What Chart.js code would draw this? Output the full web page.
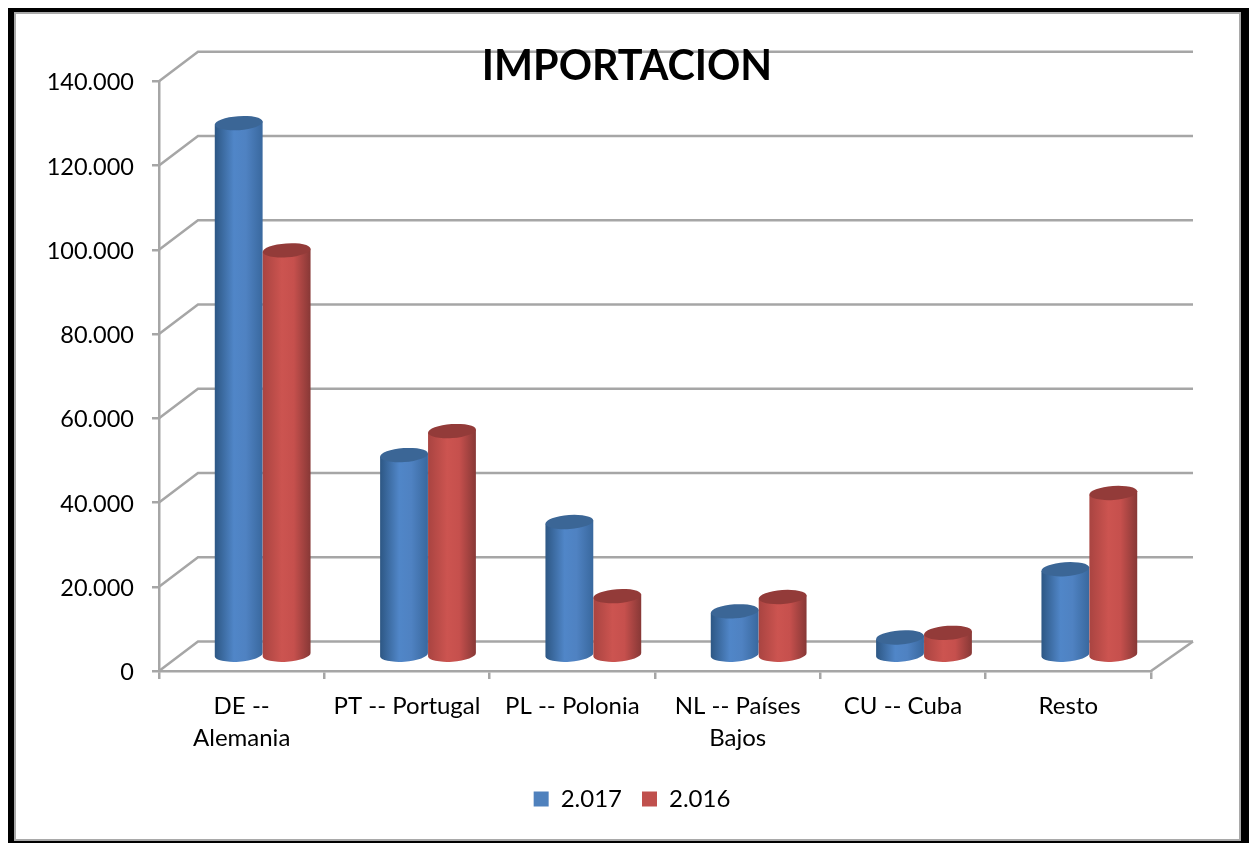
<!DOCTYPE html>
<html>
<head>
<meta charset="utf-8">
<title>IMPORTACION</title>
<script src="https://cdn.jsdelivr.net/npm/chart.js@4/dist/chart.umd.js"></script>
<style>
    html, body { margin: 0; padding: 0; background: #fff; }
    canvas { position: absolute; left: 0; top: 0; }
    .frame { position: absolute; left: 8px; top: 8px; width: 1241px; height: 835px; box-sizing: border-box;
             border: solid #000; border-width: 4px 8px 2px 6px; pointer-events: none; }
    .frame div { width: 100%; height: 100%; box-sizing: border-box; border: 2px solid #a9a9a9; }
</style>
</head>
<body>
<canvas id="chart" width="1254" height="843"></canvas>
<div class="frame"><div></div></div>
<script>
const categories = [['DE --', 'Alemania'], 'PT -- Portugal', 'PL -- Polonia', ['NL -- Países', 'Bajos'], 'CU -- Cuba', 'Resto'];
const values2017 = [126500, 47700, 31800, 10600, 4400, 20600];
const values2016 = [96300, 53400, 14200, 14000, 5500, 38700];
const yTicks = [0, 20000, 40000, 60000, 80000, 100000, 120000, 140000];

const GRID = '#a6a6a6';
const TEXT = '#000';
const FONT = 'Lato';

// depth of the fake 3D box, bars stand half way into it
const DEPTH_X = 39, DEPTH_Y = 29.5;
const TILT = -0.07, RY = 7;

const SHADES = [
    { legend: '#4f81bd', top: '#3b6696', stops: ['#2d5784', '#5086c8', '#4f82c2', '#39689e'] },
    { legend: '#c0504d', top: '#933b39', stops: ['#a94441', '#cc5450', '#c6504d', '#873836'] }
];

const box3d = {
    id: 'box3d',
    afterLayout(chart) {
        // legend sits a little right of the title in the original
        chart.legend.left += 5;
        chart.legend.right += 5;
    },
    // before the layers so the title stays on top of the back wall
    beforeDraw(chart) {
        const { ctx, chartArea, scales } = chart;
        ctx.save();
        ctx.strokeStyle = GRID;
        ctx.lineWidth = 2.5;
        yTicks.forEach(v => {
            const y = scales.y.getPixelForValue(v);
            ctx.beginPath();
            ctx.moveTo(chartArea.left, y);
            ctx.lineTo(chartArea.left + DEPTH_X, y - DEPTH_Y);
            ctx.lineTo(chartArea.right + DEPTH_X + 3, y - DEPTH_Y);
            ctx.stroke();
        });
        // right edge of the floor
        ctx.beginPath();
        ctx.moveTo(chartArea.right, chartArea.bottom);
        ctx.lineTo(chartArea.right + DEPTH_X + 3, chartArea.bottom - DEPTH_Y);
        ctx.stroke();
        ctx.restore();
    }
};

const cylinders = {
    id: 'cylinders',
    afterDatasetsDraw(chart) {
        const ctx = chart.ctx;
        ctx.save();
        ctx.translate(DEPTH_X / 2 + 1.5, -15);
        // 2.016 goes over 2.017, so draw in dataset order
        SHADES.forEach((shade, index) => {
            chart.getDatasetMeta(index).data.forEach(bar => {
                const a = bar.width / 2;
                const dx = a * Math.cos(TILT), dy = a * Math.sin(TILT);
                const grad = ctx.createLinearGradient(bar.x - a, 0, bar.x + a, 0);
                grad.addColorStop(0, shade.stops[0]);
                grad.addColorStop(0.4, shade.stops[1]);
                grad.addColorStop(0.65, shade.stops[2]);
                grad.addColorStop(1, shade.stops[3]);
                ctx.fillStyle = grad;
                ctx.beginPath();
                ctx.moveTo(bar.x - dx, bar.y - dy);
                ctx.lineTo(bar.x + dx, bar.y + dy);
                ctx.lineTo(bar.x + dx, bar.base + dy);
                ctx.ellipse(bar.x, bar.base, a, RY, TILT, 0, Math.PI);
                ctx.closePath();
                ctx.fill();
                ctx.fillStyle = shade.top;
                ctx.beginPath();
                ctx.ellipse(bar.x, bar.y, a, RY, TILT, 0, Math.PI * 2);
                ctx.fill();
            });
        });
        ctx.restore();
    }
};

new Chart(document.getElementById('chart'), {
    type: 'bar',
    data: {
        labels: categories,
        datasets: [
            { label: '2.017', data: values2017, backgroundColor: 'transparent' },
            { label: '2.016', data: values2016, backgroundColor: 'transparent' }
        ]
    },
    plugins: [box3d, cylinders],
    options: {
        responsive: false,
        animation: false,
        categoryPercentage: 0.58,
        barPercentage: 1,
        layout: { padding: { left: 0, right: 0, top: 0, bottom: 22 } },
        plugins: {
            tooltip: { enabled: false },
            title: {
                display: true,
                text: 'IMPORTACION',
                color: '#000',
                font: { family: FONT, size: 41.3, weight: 'bold', lineHeight: 1 },
                padding: { top: 46, bottom: -6 }
            },
            legend: {
                position: 'bottom',
                labels: {
                    color: TEXT,
                    font: { family: FONT, size: 24 },
                    boxWidth: 15,
                    boxHeight: 15,
                    padding: 20,
                    generateLabels(chart) {
                        const items = Chart.defaults.plugins.legend.labels.generateLabels(chart);
                        items.forEach(item => { item.fillStyle = SHADES[item.datasetIndex].legend; });
                        return items;
                    }
                }
            }
        },
        scales: {
            x: {
                afterFit(scale) { scale.height = 96; },
                grid: { drawOnChartArea: false, color: GRID, lineWidth: 2.5, tickLength: 8, offset: true },
                border: { color: GRID, width: 2.5 },
                ticks: {
                    color: TEXT,
                    padding: 11,
                    maxRotation: 0,
                    autoSkip: false,
                    font: { family: FONT, size: 24, lineHeight: 1.33 }
                }
            },
            y: {
                min: 0,
                max: 140000,
                afterFit(scale) { scale.width = 159; },
                grid: { drawOnChartArea: false, color: GRID, lineWidth: 2.5, tickLength: 7 },
                border: { color: GRID, width: 2.5 },
                ticks: {
                    stepSize: 20000,
                    color: TEXT,
                    padding: 18,
                    labelOffset: 1.5,
                    font: { family: FONT, size: 23.5 },
                    callback: value => String(value).replace(/\B(?=(\d{3})+$)/g, '.')
                }
            },
            // empty axis, only keeps the space right of the plot
            yRight: {
                position: 'right',
                afterFit(scale) { scale.width = 103; },
                grid: { display: false },
                border: { display: false },
                ticks: { display: false }
            }
        }
    }
});
</script>
</body>
</html>
